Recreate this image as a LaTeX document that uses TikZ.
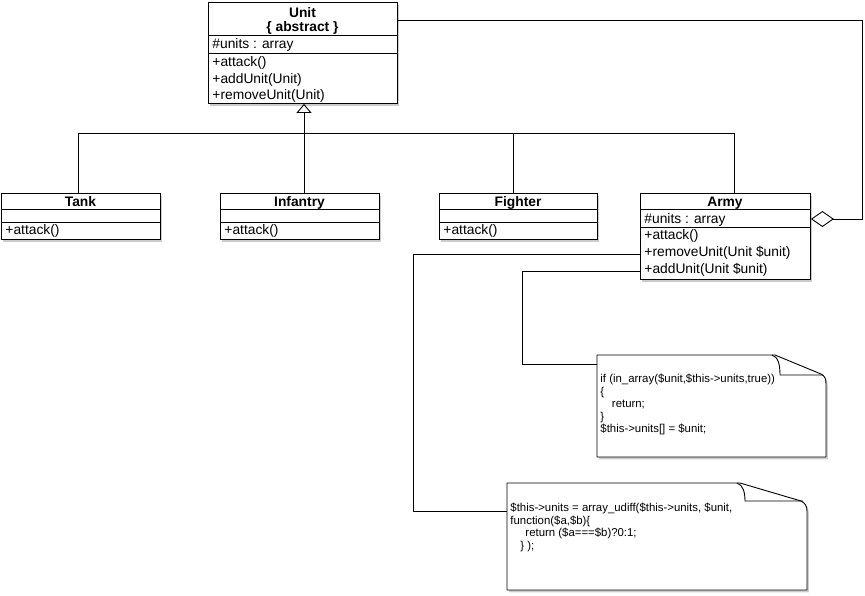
\documentclass[tikz,border=0pt]{standalone}
\usepackage{fontspec}
\setmainfont{Liberation Sans}
\usetikzlibrary{arrows.meta,shadows}
\newcommand\clsfont{\fontsize{13.8}{16}\selectfont}
\newcommand\notefont{\fontsize{11.4}{12.6}\selectfont}
\begin{document}
\begin{tikzpicture}[x=1pt,y=-1pt,line width=0.9pt,
  shad/.style={drop shadow={shadow xshift=1.8pt,shadow yshift=-2.4pt,opacity=0.4}},
  cls/.style={draw,fill=white,rectangle,inner sep=0pt,anchor=north west,shad},
  txt/.style={anchor=base west,inner sep=0pt,font=\clsfont},
  ttl/.style={anchor=base,inner sep=0pt,font=\clsfont\bfseries},
  ntxt/.style={anchor=base west,inner sep=0pt,font=\notefont},
  notearea/.style={rectangle,inner sep=0pt,anchor=north west},
  notebox/.style={draw,fill=white,shad,line join=round},
  fold/.style={draw},
  gen/.style={-{Triangle[open,length=9pt,width=15pt]}},
  agg/.style={{Diamond[open,length=23pt,width=16pt]}-}]
\useasboundingbox (0,0) rectangle (865,595);

% ---------- Unit ----------
\node[cls,minimum width=189pt,minimum height=101pt] (unit) at (208,2) {};
\draw (unit.west |- 0,35) -- (unit.east |- 0,35);
\draw (unit.west |- 0,53) -- (unit.east |- 0,53);
\node[ttl] (unitname) at (302.5,17) {Unit};
\node[ttl] (unitabs) at (302.5,31.5) {\{ abstract \}};
\node[txt] (unitattr) at (212,48.5) {\#units : array};
\node[txt] (unitm1) at (212,66) {+attack()};
\node[txt] (unitm2) at (212,83) {+addUnit(Unit)};
\node[txt] (unitm3) at (212,99.5) {+removeUnit(Unit)};

% ---------- Tank ----------
\node[cls,minimum width=159pt,minimum height=46pt] (tank) at (1,193) {};
\draw (tank.west |- 0,209.5) -- (tank.east |- 0,209.5);
\draw (tank.west |- 0,222) -- (tank.east |- 0,222);
\node[ttl] (tankname) at (80.5,206.5) {Tank};
\node[txt] (tankm1) at (5,234.5) {+attack()};

% ---------- Infantry ----------
\node[cls,minimum width=159pt,minimum height=46pt] (infantry) at (220,193) {};
\draw (infantry.west |- 0,209.5) -- (infantry.east |- 0,209.5);
\draw (infantry.west |- 0,222) -- (infantry.east |- 0,222);
\node[ttl] (infname) at (299.5,206.5) {Infantry};
\node[txt] (infm1) at (224,234.5) {+attack()};

% ---------- Fighter ----------
\node[cls,minimum width=158pt,minimum height=46pt] (fighter) at (439,193) {};
\draw (fighter.west |- 0,209.5) -- (fighter.east |- 0,209.5);
\draw (fighter.west |- 0,222) -- (fighter.east |- 0,222);
\node[ttl] (figname) at (518,206.5) {Fighter};
\node[txt] (figm1) at (443,234.5) {+attack()};

% ---------- Army ----------
\node[cls,minimum width=170pt,minimum height=86pt] (army) at (640,193) {};
\draw (army.west |- 0,209.5) -- (army.east |- 0,209.5);
\draw (army.west |- 0,227) -- (army.east |- 0,227);
\node[ttl] (armyname) at (725,206.5) {Army};
\node[txt] (armyattr) at (644,223) {\#units : array};
\node[txt] (armym1) at (644,239.5) {+attack()};
\node[txt] (armyrm) at (644,256.5) {+removeUnit(Unit \$unit)};
\node[txt] (armyadd) at (644,273) {+addUnit(Unit \$unit)};

% ---------- Generalization ----------
\draw (tank.north -| 78,0) -- (78,133) -- (734,133) -- (army.north -| 734,0);
\draw (infantry.north -| 304,0) -- (304,133);
\draw (fighter.north -| 513,0) -- (513,133);
\draw[gen] (304,133) -- (unit.south -| 304,0);

% ---------- Aggregation ----------
\draw[agg] (army.east |- 0,219) -| (862,20) -- (unit.east |- 0,20);

% ---------- Note 1 ----------
\node[notearea,minimum width=229pt,minimum height=102pt] (note1) at (597,355) {};
\path[notebox] (597,355) -- (775,355) -- (821,374)
  .. controls (825,376) and (826,379) .. (826,384) -- (826,457) -- (597,457) -- cycle;
\draw[fold] (772,355) .. controls (778,357) and (780,364) .. (780,375) -- (823,375);
\node[ntxt] (n1l1) at (600,382) {if (in\_array(\$unit,\$this->units,true))};
\node[ntxt] (n1l2) at (600,395) {\{};
\node[ntxt] (n1l3) at (611.5,407.5) {return;};
\node[ntxt] (n1l4) at (600,420) {\}};
\node[ntxt] (n1l5) at (600,432.5) {\$this->units[] = \$unit;};

% ---------- Note 2 ----------
\node[notearea,minimum width=300pt,minimum height=107pt] (note2) at (507,483) {};
\path[notebox] (507,483) -- (740,483) -- (801,501)
  .. controls (805,503) and (807,506) .. (807,511) -- (807,590) -- (507,590) -- cycle;
\draw[fold] (737,483) .. controls (743,485) and (745,492) .. (745,501) -- (803,501);
\node[ntxt] (n2l1) at (510,511.5) {\$this->units = array\_udiff(\$this->units, \$unit,};
\node[ntxt] (n2l2) at (510,524) {function(\$a,\$b)\{};
\node[ntxt] (n2l3) at (525,536.5) {return (\$a===\$b)?0:1;};
\node[ntxt] (n2l4) at (520,549) {\} );};

% ---------- Note connectors ----------
\draw (army.west |- 0,254) -| (413,511) -- (note2.west |- 0,511);
\draw (army.west |- 0,271) -| (522,364) -- (note1.west |- 0,364);
\end{tikzpicture}
\end{document}
